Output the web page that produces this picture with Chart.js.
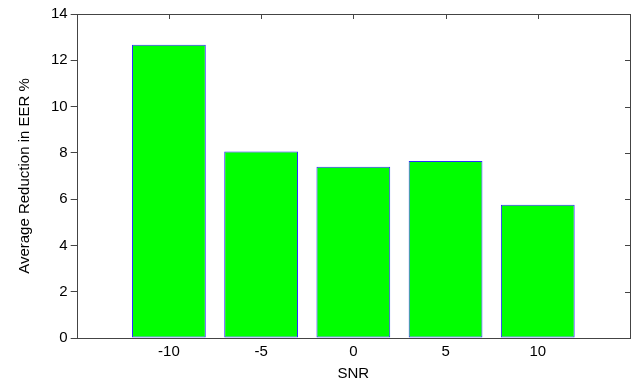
<!DOCTYPE html>
<html>
<head>
<meta charset="utf-8">
<script src="https://cdn.jsdelivr.net/npm/chart.js@4/dist/chart.umd.min.js"></script>
<style>
  html, body { margin: 0; padding: 0; background: #fff; }
  #wrap { width: 633px; height: 381px; }
</style>
</head>
<body>
<div id="wrap"><canvas id="myChart" width="633" height="381"></canvas></div>
<script>
const snrLevels = [-10, -5, 0, 5, 10]
const eerReduction = [12.67, 8.06, 7.40, 7.65, 5.76]
const xTicks = [-10, -5, 0, 5, 10]
const yTicks = [0, 2, 4, 6, 8, 10, 12, 14]

// box round the plot with small inward ticks on top and right
const boxPlugin = {
  id: "box",
  afterDraw(chart) {
    const ctx = chart.ctx
    const a = chart.chartArea
    const xs = chart.scales.x
    const ys = chart.scales.y
    ctx.save()
    ctx.strokeStyle = "#444"
    ctx.lineWidth = 1
    ctx.strokeRect(Math.round(a.left) + 0.5, Math.round(a.top) + 0.5,
      Math.round(a.right - a.left), Math.round(a.bottom - a.top))
    ctx.beginPath()
    xTicks.forEach(v => {
      const px = Math.round(xs.getPixelForValue(v)) + 0.5
      ctx.moveTo(px, a.top)
      ctx.lineTo(px, a.top + 5)
    })
    yTicks.forEach(v => {
      const py = Math.round(ys.getPixelForValue(v)) + 0.5
      ctx.moveTo(a.right, py)
      ctx.lineTo(a.right - 5, py)
    })
    ctx.stroke()
    ctx.restore()
  }
}

const ctx = document.getElementById("myChart")
new Chart(ctx, {
  type: "bar",
  data: {
    datasets: [{
      data: snrLevels.map((s, i) => ({ x: s, y: eerReduction[i] })),
      backgroundColor: "#00ff00",
      borderColor: "#2a2aff",
      borderWidth: 1,
      borderSkipped: false,
      categoryPercentage: 1,
      barPercentage: 0.8
    }]
  },
  options: {
    responsive: false,
    animation: false,
    layout: { padding: { top: 14, right: 3, left: 16, bottom: 0 } },
    plugins: { legend: { display: false }, tooltip: { enabled: false } },
    scales: {
      x: {
        type: "linear",
        offset: false,
        min: -15,
        max: 15,
        afterBuildTicks: scale => { scale.ticks = xTicks.map(v => ({ value: v })) },
        grid: { display: false, drawTicks: false },
        border: { display: false },
        ticks: { color: "#000", font: { family: "Liberation Sans", size: 15, lineHeight: 1.2 }, padding: 5 },
        title: { display: true, text: "SNR", color: "#000", font: { family: "Liberation Sans", size: 15, lineHeight: 1 }, padding: { top: 0, bottom: 0 } }
      },
      y: {
        min: 0,
        max: 14,
        afterBuildTicks: scale => { scale.ticks = yTicks.map(v => ({ value: v })) },
        grid: { display: true, drawOnChartArea: false, drawTicks: true, tickLength: 6, color: "#444" },
        border: { display: false },
        ticks: { color: "#000", font: { family: "Liberation Sans", size: 15 }, padding: 3 },
        title: { display: true, text: "Average Reduction in EER %", color: "#000", font: { family: "Liberation Sans", size: 15 }, padding: { top: 0, bottom: 14 } }
      }
    }
  },
  plugins: [boxPlugin]
})
</script>
</body>
</html>
